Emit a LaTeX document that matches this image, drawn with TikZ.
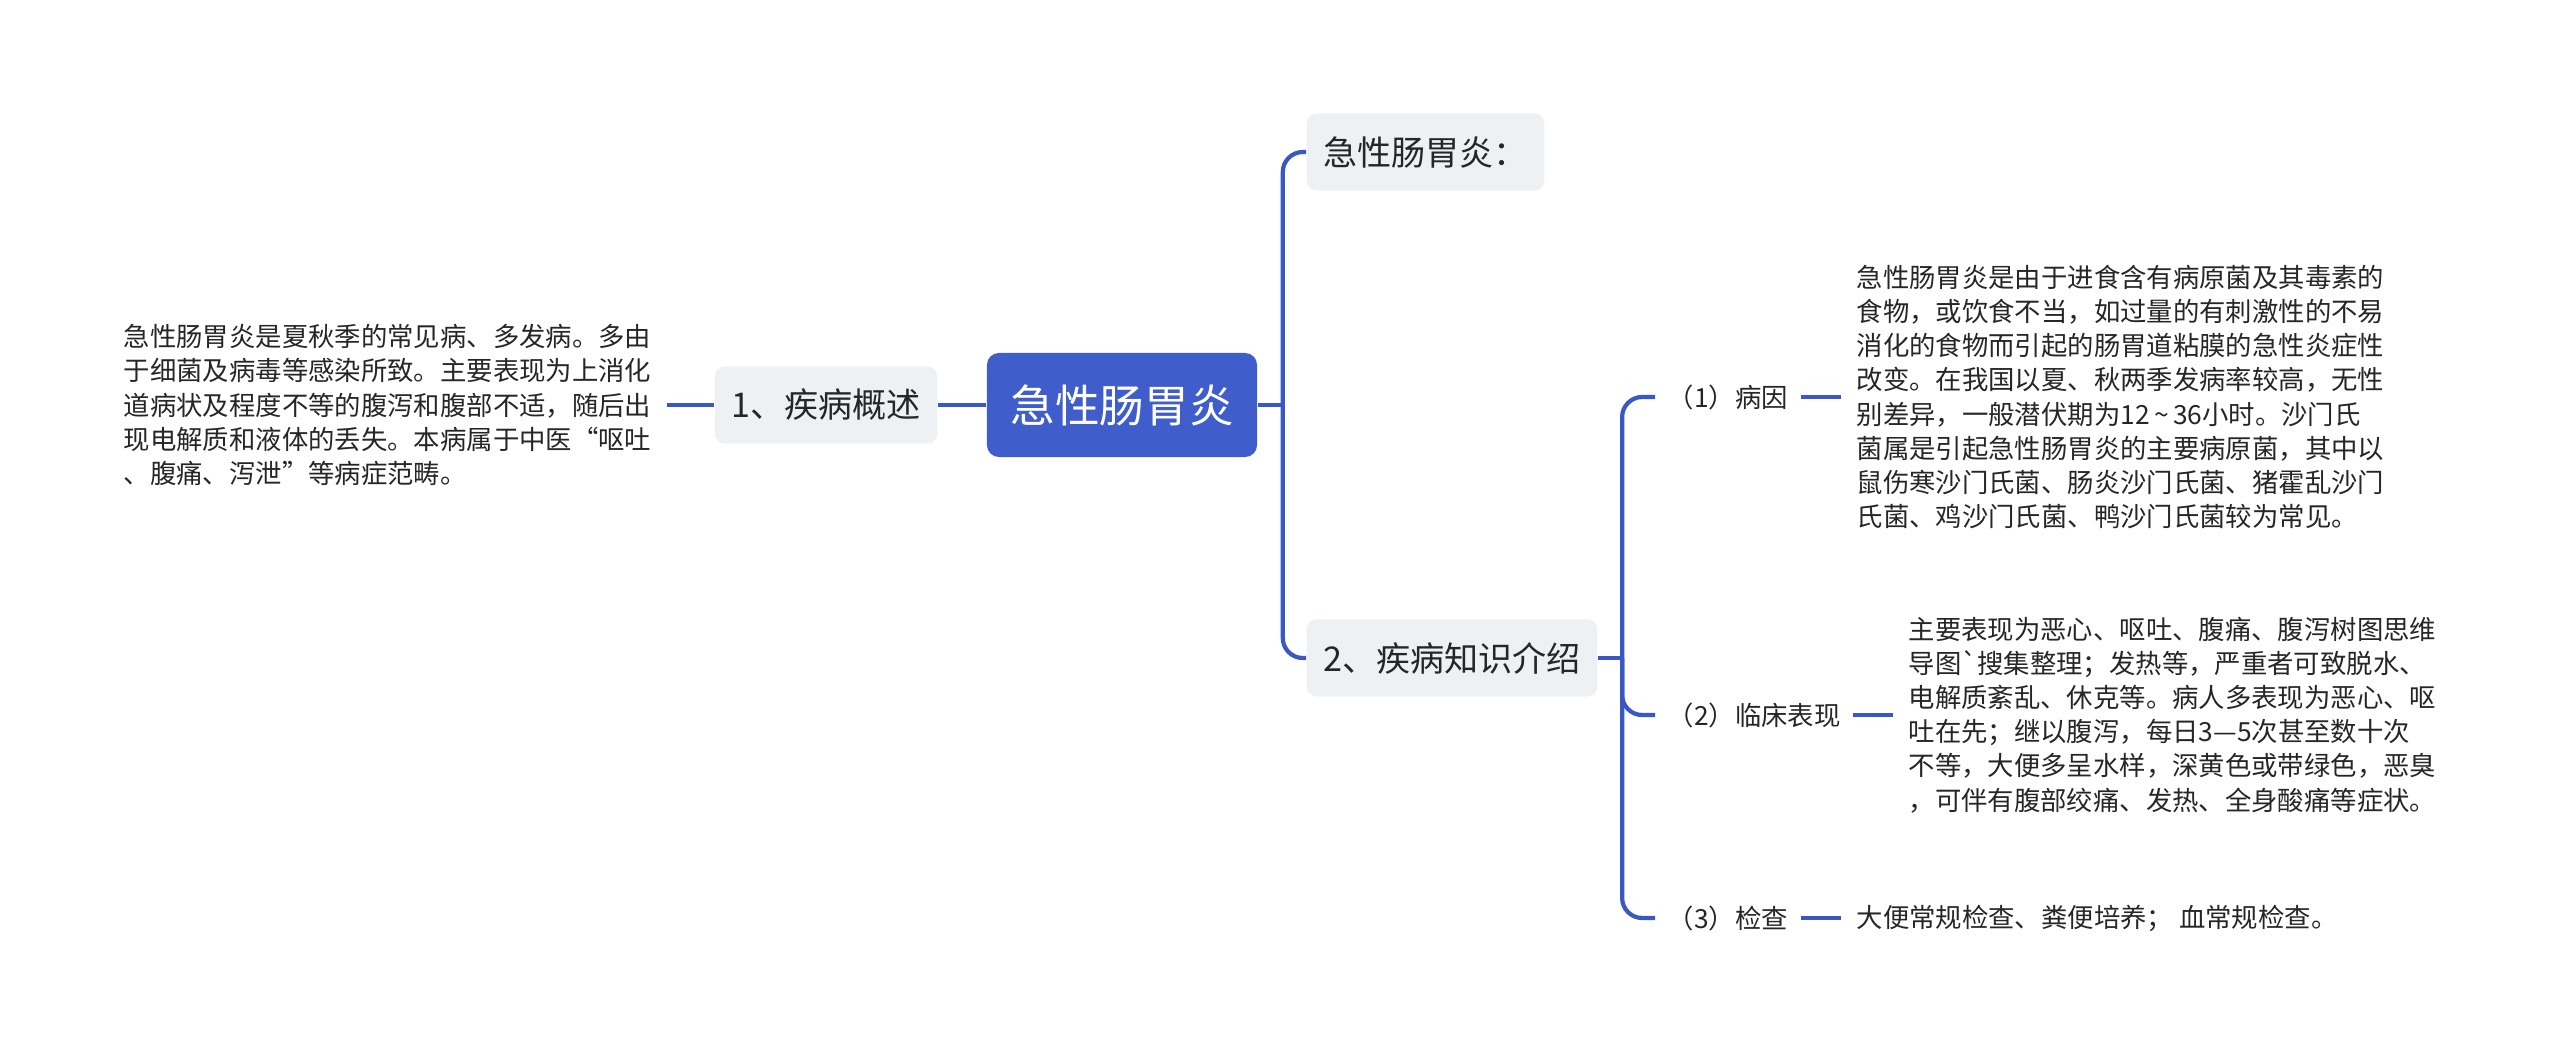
\documentclass[tikz,border=0pt]{standalone}
\usepackage{fontspec}
\setmainfont{Noto Sans CJK SC}
\newfontfamily\rawcjk{Noto Sans CJK SC}
\usetikzlibrary{positioning}
\definecolor{mapblue}{HTML}{3A58C4}
\definecolor{rootfill}{HTML}{3F5ECC}
\definecolor{boxfill}{HTML}{EEF1F4}
\definecolor{inktext}{HTML}{262626}
\tikzset{
  link/.style={line width=1.2pt,mapblue},
  rootbox/.style={fill=rootfill,rounded corners=0.12cm,text=white,
    font=\fontsize{12.7pt}{15pt}\selectfont,minimum width=2.7cm,minimum height=1.04cm},
  topicbox/.style={fill=boxfill,rounded corners=0.1cm,text=inktext,
    font=\fontsize{9.7pt}{12pt}\selectfont,inner xsep=0.165cm,minimum height=0.77cm},
  subitem/.style={text=inktext,font=\fontsize{7.5pt}{9.7pt}\selectfont,inner xsep=0.12cm},
  notetext/.style={text=inktext,font=\fontsize{7.5pt}{9.7pt}\selectfont,align=left,inner xsep=0.15cm}
}

\begin{document}
\begin{tikzpicture}[x=0.01cm,y=-0.01cm]
\useasboundingbox (0,0) rectangle (2560,1061);
% centre and first level
\node[rootbox] (root) at (1122,405) {急性肠胃炎};
\node[topicbox] (overview) at (826,405) {1、疾病概述};
\node[topicbox] (acute) at (1306,152) [anchor=west] {急性肠胃炎：};
\node[topicbox] (knowledge) at (1306,658) [anchor=west] {2、疾病知识介绍};
\node[notetext,anchor=east] (note) at (667,405) {急性肠胃炎是夏秋季的常见病、多发病。多由\\
于细菌及病毒等感染所致。主要表现为上消化\\
道病状及程度不等的腹泻和腹部不适，随后出\\
现电解质和液体的丢失。本病属于中医“呕吐\\
、腹痛、泻泄”等病症范畴。};
% second level
\node[subitem,anchor=west] (cause) at (1655,397) {（1）病因};
\node[subitem,anchor=west] (sign) at (1655,715) {（2）临床表现};
\node[subitem,anchor=west] (exam) at (1655,918) {（3）检查};
\node[notetext,anchor=west] (causetext) at (1841,397) {急性肠胃炎是由于进食含有病原菌及其毒素的\\
食物，或饮食不当，如过量的有刺激性的不易\\
消化的食物而引起的肠胃道粘膜的急性炎症性\\
改变。在我国以夏、秋两季发病率较高，无性\\
别差异，一般潜伏期为12\,\textasciitilde\,36小时。沙门氏\\
菌属是引起急性肠胃炎的主要病原菌，其中以\\
鼠伤寒沙门氏菌、肠炎沙门氏菌、猪霍乱沙门\\
氏菌、鸡沙门氏菌、鸭沙门氏菌较为常见。};
\node[notetext,anchor=west] (signtext) at (1893,715) {主要表现为恶心、呕吐、腹痛、腹泻树图思维\\
导图{\rawcjk `}搜集整理；发热等，严重者可致脱水、\\
电解质紊乱、休克等。病人多表现为恶心、呕\\
吐在先；继以腹泻，每日3—5次甚至数十次\\
不等，大便多呈水样，深黄色或带绿色，恶臭\\
，可伴有腹部绞痛、发热、全身酸痛等症状。};
\node[notetext,anchor=west] (examtext) at (1841,918) {大便常规检查、粪便培养； 血常规检查。};
% connectors
\draw[link] (note.east) -- (overview.west);
\draw[link] (overview.east) -- (root.west);
\draw[link] (root.east) -- ++(25,0) coordinate (spineA);
\draw[link,rounded corners=0.2cm] (spineA) |- (acute.west);
\draw[link,rounded corners=0.2cm] (spineA) |- (knowledge.west);
\draw[link] (knowledge.east) -- ++(24,0) coordinate (spineB);
\draw[link,rounded corners=0.2cm] (spineB) |- (cause.west);
\draw[link,rounded corners=0.2cm] (spineB) |- (sign.west);
\draw[link,rounded corners=0.2cm] (spineB) |- (exam.west);
\draw[link] (cause.east) -- (causetext.west);
\draw[link] (sign.east) -- (signtext.west);
\draw[link] (exam.east) -- (examtext.west);
\end{tikzpicture}
\end{document}
